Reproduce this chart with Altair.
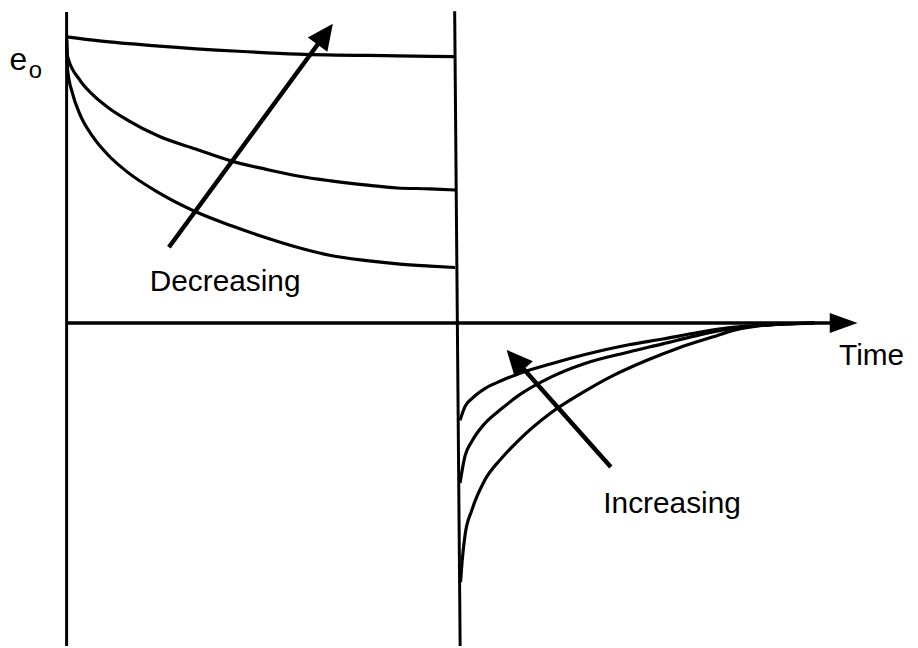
import math
import altair as alt
import pandas as pd

# ---- data (time in arbitrary units; e relative to e0) ----
# during the pulse (0 < t < 5): three decays starting at e0
t_dec_1 = [0.0, 0.420, 1.183, 2.201, 2.964, 4.237, 4.975]
e_dec_1 = [1.0, 0.986, 0.968, 0.950, 0.940, 0.934, 0.931]
t_dec_2 = [0.0, 0.013, 0.165, 0.331, 0.547, 0.763, 1.183, 1.654, 2.112, 2.545,
           2.964, 3.384, 3.817, 4.237, 4.656, 4.975]
e_dec_2 = [0.993, 0.931, 0.851, 0.799, 0.750, 0.712, 0.653, 0.608, 0.566, 0.538,
           0.514, 0.497, 0.483, 0.472, 0.469, 0.465]
t_dec_3 = [0.0, 0.013, 0.076, 0.165, 0.331, 0.547, 0.763, 1.183, 1.654, 2.112,
           2.545, 2.964, 3.384, 3.817, 4.237, 4.656, 4.975]
e_dec_3 = [0.990, 0.885, 0.802, 0.733, 0.653, 0.583, 0.531, 0.455, 0.389, 0.340,
           0.299, 0.264, 0.236, 0.219, 0.207, 0.199, 0.194]
# after the pulse (t > 5): three recoveries toward zero
t_rec_1 = [5.038, 5.102, 5.191, 5.356, 5.573, 5.789, 6.209, 6.628, 7.201, 7.634,
           8.053, 8.473, 8.817, 9.198, 9.580]
e_rec_1 = [-0.340, -0.292, -0.264, -0.229, -0.201, -0.177, -0.142, -0.111, -0.076, -0.056,
           -0.035, -0.017, -0.009, -0.003, 0.0]
t_rec_2 = [5.038, 5.102, 5.191, 5.356, 5.573, 5.789, 6.209, 6.628, 7.201, 7.634,
           8.053, 8.473, 8.817, 9.198, 9.580]
e_rec_2 = [-0.559, -0.465, -0.413, -0.351, -0.299, -0.253, -0.188, -0.142, -0.101, -0.073,
           -0.045, -0.021, -0.010, -0.003, 0.0]
t_rec_3 = [5.045, 5.064, 5.102, 5.191, 5.356, 5.573, 5.789, 6.209, 6.628, 6.997,
           7.417, 7.837, 8.270, 8.562, 8.880, 9.198, 9.580]
e_rec_3 = [-0.906, -0.837, -0.743, -0.653, -0.549, -0.472, -0.410, -0.313, -0.240, -0.184,
           -0.132, -0.087, -0.049, -0.024, -0.009, -0.003, 0.0]

# frame lines
vline_left_t = [0.0, 0.0]
vline_left_e = [1.087, -1.13]
vline_right_t = [4.97, 5.04]
vline_right_e = [1.09, -1.13]
axis_tail = (0.0, 0.0)
axis_tip = (10.13, 0.0)

# annotation arrows (tail, tip)
dec_tail = (1.31, 0.265)
dec_tip = (3.41, 1.046)
inc_tail = (6.97, -0.503)
inc_tip = (5.636, -0.094)

# labels
label_text = ["Decreasing", "Increasing", "Time", "e", "o"]
label_t = [2.03, 7.754, 10.31, -0.617, -0.401]
label_e = [0.111, -0.663, -0.146, 0.918, 0.880]
label_size = [30, 30, 30, 32, 24]
label_baseline = ["alphabetic", "alphabetic", "alphabetic", "middle", "middle"]

# ---- scales ----
PX_T = 78.6     # pixels per time unit
PX_E = 288.0    # pixels per e0
W, H = 908, 640
TMIN = -(67 - 8) / PX_T
TMAX = TMIN + W / PX_T
EMAX = (323 - 8) / PX_E
EMIN = EMAX - H / PX_E

xs = alt.Scale(domain=[TMIN, TMAX], nice=False, zero=False)
ys = alt.Scale(domain=[EMIN, EMAX], nice=False, zero=False)

rows = []
def add(name, ts, es):
    for i, (t, e) in enumerate(zip(ts, es)):
        rows.append({"curve": name, "i": i, "t": t, "e": e})

add("d1", t_dec_1, e_dec_1)
add("d2", t_dec_2, e_dec_2)
add("d3", t_dec_3, e_dec_3)
add("r1", t_rec_1, e_rec_1)
add("r2", t_rec_2, e_rec_2)
add("r3", t_rec_3, e_rec_3)
curves = pd.DataFrame(rows)

frame_rows = []
for name, ts, es in [("L", vline_left_t, vline_left_e), ("R", vline_right_t, vline_right_e)]:
    for i, (t, e) in enumerate(zip(ts, es)):
        frame_rows.append({"curve": name, "i": i, "t": t, "e": e})
frame = pd.DataFrame(frame_rows)

X = alt.X("t:Q", scale=xs, axis=None)
Y = alt.Y("e:Q", scale=ys, axis=None)

curve_layer = alt.Chart(curves).mark_line(
    color="black", strokeWidth=3.2, interpolate="monotone", clip=True,
    strokeJoin="round"
).encode(x=X, y=Y, detail="curve:N", order="i:Q")

frame_layer = alt.Chart(frame).mark_line(
    color="black", strokeWidth=3, clip=True
).encode(x=X, y=Y, detail="curve:N", order="i:Q")


def arrow(tail, tip, head_len, shaft_w, head_ratio=0.45):
    dx = (tip[0] - tail[0]) * PX_T
    dy = -(tip[1] - tail[1]) * PX_E
    L = math.hypot(dx, dy)
    ux, uy = dx / L, dy / L
    ang = math.degrees(math.atan2(dy, dx)) % 360
    k = head_len * 0.6
    end = (tip[0] - k * ux / PX_T, tip[1] + k * uy / PX_E)
    shaft_df = pd.DataFrame({"t": [tail[0], end[0]], "e": [tail[1], end[1]], "i": [0, 1]})
    shaft = alt.Chart(shaft_df).mark_line(
        color="black", strokeWidth=shaft_w, strokeCap="butt"
    ).encode(x=X, y=Y, order="i:Q")
    head_df = pd.DataFrame({"t": [tip[0]], "e": [tip[1]]})
    path = f"M0,0L-1,-{head_ratio}L-1,{head_ratio}Z"
    head = alt.Chart(head_df).mark_point(
        shape=path, size=(2 * head_len) ** 2, filled=True, color="black",
        opacity=1, strokeWidth=0, angle=ang
    ).encode(x=X, y=Y)
    return shaft + head

axis_arrow = arrow(axis_tail, axis_tip, 28, 3.5, 0.36)
dec_arrow = arrow(dec_tail, dec_tip, 26, 4.5, 0.47)
inc_arrow = arrow(inc_tail, inc_tip, 26, 4.5, 0.47)

labels = pd.DataFrame({"label": label_text, "t": label_t, "e": label_e,
                       "fs": label_size, "bl": label_baseline})
text_layers = []
for bl in ["alphabetic", "middle"]:
    sub = labels[labels["bl"] == bl]
    text_layers.append(
        alt.Chart(sub).mark_text(
            font="Liberation Sans", color="black", align="center", baseline=bl
        ).encode(x=X, y=Y, text="label:N", size=alt.Size("fs:Q", scale=None, legend=None))
    )

chart = alt.layer(
    frame_layer, curve_layer, axis_arrow, dec_arrow, inc_arrow, *text_layers
).properties(
    width=W, height=H, autosize=alt.AutoSizeParams(type="none"), padding=0,
    background="white"
).configure_view(stroke=None)

chart.save("out.html", embed_options={"renderer": "svg", "actions": False})
